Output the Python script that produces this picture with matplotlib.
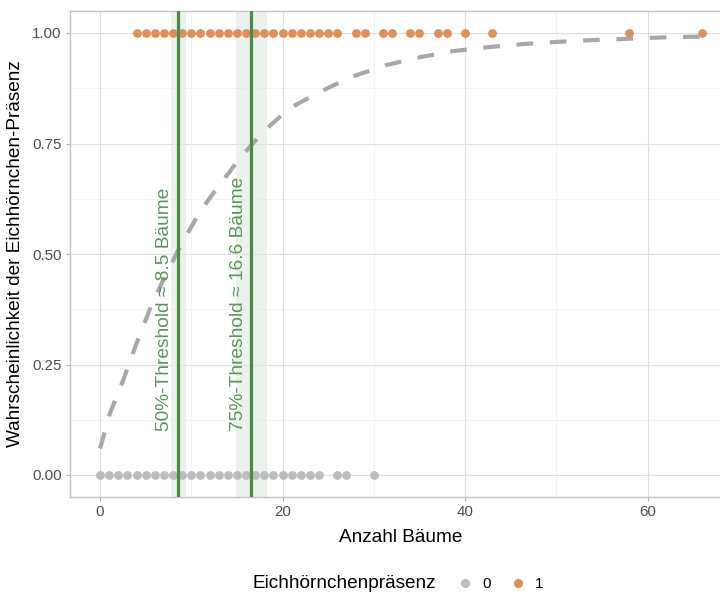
import matplotlib
matplotlib.use("Agg")
import matplotlib.pyplot as plt
from matplotlib.lines import Line2D
import numpy as np

plt.rcParams['font.family'] = ['Liberation Sans', 'DejaVu Sans']

# Data
trees_present = [4, 5, 6, 7, 8, 9, 10, 11, 12, 13, 14, 15, 16, 17, 18, 19, 20, 21, 22, 23, 24, 25, 26,
                 28, 29, 31, 32, 34, 35, 37, 38, 40, 43, 58, 66]
trees_absent = [0, 1, 2, 3, 4, 5, 6, 7, 8, 9, 10, 11, 12, 13, 14, 15, 16, 17, 18, 19, 20, 21, 22, 23, 24,
                26, 27, 30]

curve_x = [0, 1.1, 2.55, 4.0, 5.5, 7.1, 8.76, 10.95, 12.4, 15.3, 17.9, 20.8, 24.1, 27.6, 31.3,
           35.0, 38.7, 42.5, 46.4, 50.2, 54.0, 57.9, 61.7, 66.0]
curve_p = [0.060, 0.140, 0.215, 0.298, 0.377, 0.449, 0.516, 0.596, 0.637, 0.716, 0.777, 0.830,
           0.867, 0.901, 0.927, 0.945, 0.959, 0.968, 0.975, 0.980, 0.984, 0.987, 0.990, 0.992]

thresholds = [8.5, 16.6]
threshold_lo = [7.8, 14.9]
threshold_hi = [9.4, 18.3]
threshold_labels = ["50%-Threshold ≈ 8.5 Bäume", "75%-Threshold ≈ 16.6 Bäume"]

col_absent = '#bcbcbc'
col_present = '#e08f58'
col_green = '#4a8a4a'
col_curve = '#a8a8a8'

fig = plt.figure(figsize=(7.2, 5.93), dpi=100)
ax = fig.add_axes([69.9/720, 95.9/593, 662.5/720, 486.2/593])

ax.set_xlim(-3.3, 69.3)
ax.set_ylim(-0.05, 1.05)

# grid
ax.set_xticks([0, 20, 40, 60])
ax.set_xticks([10, 30, 50], minor=True)
ax.set_yticks([0, 0.25, 0.5, 0.75, 1.0])
ax.set_yticks([0.125, 0.375, 0.625, 0.875], minor=True)
ax.set_yticklabels(['0.00', '0.25', '0.50', '0.75', '1.00'])
ax.grid(True, which='major', color='#e0e0e0', linewidth=0.8)
ax.grid(True, which='minor', color='#efefef', linewidth=0.5)
ax.set_axisbelow(True)
for s in ax.spines.values():
    s.set_color('#c4c4c4')
    s.set_linewidth(1.0)
ax.tick_params(which='major', length=3, width=0.8, color='#b3b3b3', labelcolor='#4d4d4d',
               labelsize=10.8, pad=3)
ax.tick_params(which='minor', length=0)

# bands
for lo, hi in zip(threshold_lo, threshold_hi):
    ax.axvspan(lo, hi, color='#dfe8df', alpha=0.6, lw=0, zorder=1)

# points
ax.scatter(trees_absent, [0] * len(trees_absent), s=40, color=col_absent, lw=0, zorder=2)
ax.scatter(trees_present, [1] * len(trees_present), s=40, color=col_present, lw=0, zorder=2)

# curve
ax.plot(curve_x, curve_p, color=col_curve, lw=3.0, linestyle=(0, (4, 4)),
        dash_capstyle='butt', zorder=3)

# threshold lines & labels
for t, lab in zip(thresholds, threshold_labels):
    ax.axvline(t, color=col_green, lw=2.3, zorder=4)
    ax.text(t - 0.5, 0.10, lab, rotation=90, ha='right', va='bottom', color='#5a965a',
            fontsize=13.8, zorder=5)

ax.set_xlabel('Anzahl Bäume', fontsize=13.7, labelpad=7)
ax.set_ylabel('Wahrscheinlichkeit der Eichhörnchen-Präsenz', fontsize=13.7, labelpad=6)

# legend at bottom
fig.text(253/720, 1 - 584/593, 'Eichhörnchenpräsenz', fontsize=13.7, ha='left', va='center')
handles = [Line2D([], [], marker='o', linestyle='', color=col_absent, markersize=5.5),
           Line2D([], [], marker='o', linestyle='', color=col_present, markersize=5.5)]
fig.legend(handles, ['0', '1'], ncol=2, loc='center left',
           bbox_to_anchor=(456/720, 1 - 584/593), frameon=False, fontsize=11,
           handletextpad=0.5, columnspacing=1.2, handlelength=1.2, borderaxespad=0, borderpad=0)

fig.savefig('out.png', dpi=100)
